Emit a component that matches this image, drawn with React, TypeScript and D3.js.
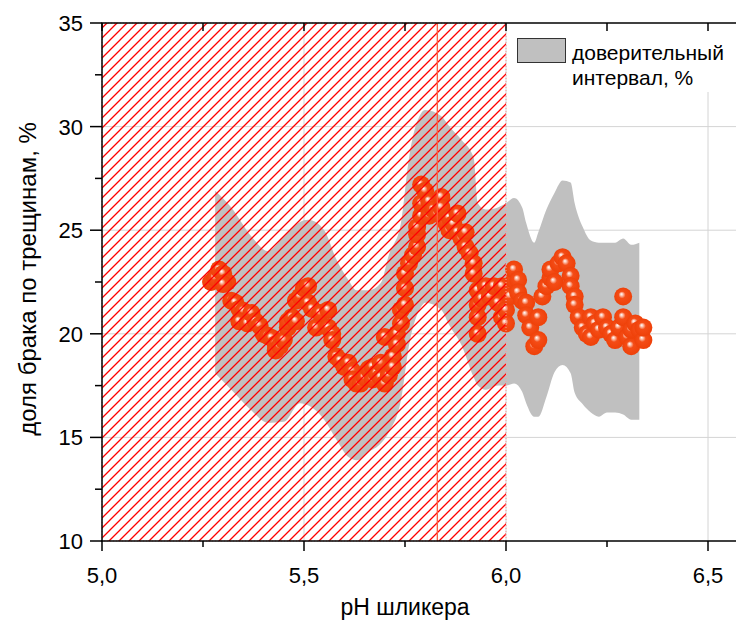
import React, { useEffect, useRef } from "react";
import * as d3 from "d3";

// pH values of the scatter points
const phValues = [
  5.27, 5.28, 5.29, 5.3, 5.31, 5.3, 5.32, 5.33, 5.34, 5.35, 5.34, 5.36, 5.37, 5.38, 5.39, 5.4,
  5.41, 5.42, 5.43, 5.43, 5.44, 5.45, 5.46, 5.46, 5.47, 5.48, 5.48, 5.49, 5.5, 5.51, 5.51, 5.52,
  5.53, 5.54, 5.56, 5.56, 5.57, 5.57, 5.58, 5.59, 5.6, 5.61, 5.62, 5.62, 5.63, 5.64, 5.65, 5.66,
  5.67, 5.67, 5.68, 5.69, 5.69, 5.7, 5.71, 5.72, 5.72, 5.7, 5.73, 5.73, 5.74, 5.74, 5.75, 5.75,
  5.75, 5.76, 5.77, 5.78, 5.78, 5.78, 5.79, 5.79, 5.79, 5.8, 5.81, 5.81, 5.82, 5.83, 5.84, 5.84,
  5.85, 5.86, 5.86, 5.87, 5.88, 5.88, 5.89, 5.9, 5.9, 5.91, 5.92, 5.92, 5.93, 5.93, 5.93, 5.93,
  5.94, 5.95, 5.96, 5.97, 5.98, 5.99, 5.99, 6.0, 6.0, 6.01, 6.01, 6.02, 6.02, 6.03, 6.03, 6.04,
  6.05, 6.05, 6.06, 6.07, 6.08, 6.08, 6.09, 6.1, 6.11, 6.11, 6.12, 6.13, 6.14, 6.15, 6.16, 6.16,
  6.17, 6.17, 6.18, 6.19, 6.2, 6.21, 6.21, 6.22, 6.23, 6.24, 6.25, 6.26, 6.27, 6.28, 6.29, 6.29,
  6.3, 6.31, 6.31, 6.32, 6.33, 6.34, 6.34,
];

// доля брака по трещинам, %
const defectValues = [
  22.5, 22.7, 23.1, 22.9, 22.5, 22.4, 21.6, 21.5, 21.2, 21.1, 20.6, 20.5, 21.0, 20.6, 20.4, 20.0,
  19.9, 19.8, 19.5, 19.2, 19.4, 19.7, 20.3, 20.6, 20.8, 20.6, 21.6, 21.8, 22.2, 22.3, 21.5, 21.2,
  20.3, 21.0, 21.15, 20.3, 20.0, 19.7, 18.9, 18.7, 18.4, 18.6, 18.2, 17.8, 17.6, 17.6, 17.9, 18.3,
  18.4, 17.8, 18.1, 18.6, 17.9, 17.6, 18.0, 18.9, 18.4, 19.85, 20.0, 19.5, 20.5, 21.15, 21.4, 22.2,
  22.9, 23.4, 23.8, 24.2, 24.8, 25.15, 25.7, 26.3, 27.2, 26.9, 26.4, 25.7, 26.0, 25.8, 26.6, 26.1,
  25.4, 25.6, 25.0, 25.3, 25.8, 24.9, 24.6, 24.9, 24.2, 23.9, 23.4, 22.9, 22.1, 21.4, 20.8, 20.0,
  21.7, 22.3, 21.8, 22.3, 21.5, 20.8, 22.3, 21.15, 20.5, 22.0, 21.8, 22.6, 23.1, 22.6, 22.0, 21.6,
  21.5, 20.9, 20.3, 19.4, 19.7, 20.8, 21.8, 22.3, 22.7, 23.1, 22.5, 23.4, 23.7, 23.4, 22.8, 22.3,
  21.8, 21.4, 20.8, 20.3, 20.0, 20.8, 19.85, 20.5, 20.2, 20.8, 20.3, 20.0, 19.7, 20.3, 21.8, 20.8,
  19.85, 19.4, 20.2, 20.5, 20.2, 19.7, 20.3,
];

// confidence interval band
const bandPh = [
  5.28, 5.32, 5.37, 5.41, 5.45, 5.49, 5.51, 5.55, 5.58, 5.61, 5.63, 5.66, 5.69, 5.71, 5.74, 5.76,
  5.79, 5.8, 5.84, 5.86, 5.89, 5.92, 5.93, 5.95, 5.98, 6.0, 6.02, 6.04, 6.05, 6.07, 6.08, 6.1,
  6.12, 6.14, 6.16, 6.17, 6.19, 6.21, 6.23, 6.25, 6.27, 6.29, 6.31, 6.33,
];
const bandUpper = [
  26.9, 26.1, 24.7, 24.0, 24.7, 25.4, 25.5, 25.0, 23.6, 22.6, 22.1, 22.1, 22.45, 23.8, 25.35, 28.5,
  30.65, 30.8, 30.5, 30.0, 29.35, 28.5, 26.3, 26.0, 26.1, 26.3, 26.55, 26.1, 25.35, 24.4, 24.9, 26.0,
  26.8, 27.4, 27.3, 26.3, 25.15, 24.5, 24.4, 24.4, 24.4, 24.6, 24.3, 24.4,
];
const bandLower = [
  18.1, 17.3, 16.3, 15.7, 15.75, 16.65, 16.55, 15.85, 14.9, 14.05, 13.9, 14.3, 14.7, 15.25, 16.8, 19.45,
  21.3, 21.5, 21.15, 20.4, 19.45, 17.9, 17.5, 17.3, 17.5, 17.5, 17.6, 17.2, 16.65, 16.0, 16.0, 16.95,
  18.15, 18.5, 18.1, 17.15, 16.6, 16.2, 16.0, 16.2, 16.2, 16.1, 15.85, 15.85,
];

const xTicks = [5.0, 5.5, 6.0, 6.5];
const xMinorTicks = [5.25, 5.75, 6.25];
const yTicks = [10, 15, 20, 25, 30, 35];
const yMinorTicks = [12.5, 17.5, 22.5, 27.5, 32.5];
const hatchRange = [5.0, 6.0];
const markerPh = 5.83;

const fmt = (v: number) => v.toFixed(1).replace(".", ",");

export default function App() {
  const ref = useRef<SVGSVGElement | null>(null);

  useEffect(() => {
    const W = 736;
    const H = 622;
    const left = 102;
    const top = 23;
    const bottom = 541;
    const right = 736;
    const font = "'Liberation Sans', Arial, sans-serif";

    const svg = d3.select(ref.current);
    svg.selectAll("*").remove();

    const x = d3.scaleLinear().domain([5.0, 6.5]).range([left, 708]);
    const y = d3.scaleLinear().domain([10, 35]).range([bottom, top]);

    const defs = svg.append("defs");
    const grad = defs
      .append("radialGradient")
      .attr("id", "ball")
      .attr("cx", "50%")
      .attr("cy", "50%")
      .attr("r", "52%")
      .attr("fx", "40%")
      .attr("fy", "36%");
    grad.append("stop").attr("offset", "0%").attr("stop-color", "#ffffff");
    grad.append("stop").attr("offset", "14%").attr("stop-color", "#fcc8b6");
    grad.append("stop").attr("offset", "38%").attr("stop-color", "#f44c16");
    grad.append("stop").attr("offset", "100%").attr("stop-color", "#ee4008");

    const pat = defs
      .append("pattern")
      .attr("id", "hatch")
      .attr("patternUnits", "userSpaceOnUse")
      .attr("width", 10)
      .attr("height", 10);
    pat
      .append("path")
      .attr("d", "M-1,1 l2,-2 M0,10 l10,-10 M9,11 l2,-2")
      .attr("stroke", "#ff0000")
      .attr("stroke-width", 1.3);

    svg.append("rect").attr("width", W).attr("height", H).attr("fill", "#fff");

    // GRID
    svg
      .append("g")
      .selectAll("line")
      .data(xTicks.slice(1))
      .join("line")
      .attr("x1", (d) => x(d))
      .attr("x2", (d) => x(d))
      .attr("y1", top)
      .attr("y2", bottom)
      .attr("stroke", "#d4d4d4")
      .attr("stroke-width", 1);
    svg
      .append("g")
      .selectAll("line")
      .data(yTicks.slice(1, -1))
      .join("line")
      .attr("x1", left)
      .attr("x2", right)
      .attr("y1", (d) => y(d))
      .attr("y2", (d) => y(d))
      .attr("stroke", "#d4d4d4")
      .attr("stroke-width", 1);

    // BAND
    const band = bandPh.map((p, i) => ({ p, lo: bandLower[i], hi: bandUpper[i] }));
    const area = d3
      .area<{ p: number; lo: number; hi: number }>()
      .x((d) => x(d.p))
      .y0((d) => y(d.lo))
      .y1((d) => y(d.hi))
      .curve(d3.curveMonotoneX);
    svg.append("path").datum(band).attr("d", area).attr("fill", "#c0c0c0");

    // POINTS
    const pts = phValues.map((p, i) => ({ p, v: defectValues[i] }));
    svg
      .append("g")
      .selectAll("circle")
      .data(pts)
      .join("circle")
      .attr("cx", (d) => x(d.p))
      .attr("cy", (d) => y(d.v))
      .attr("r", 9)
      .attr("fill", "url(#ball)");

    // HATCH
    svg
      .append("rect")
      .attr("x", x(hatchRange[0]))
      .attr("y", top)
      .attr("width", x(hatchRange[1]) - x(hatchRange[0]))
      .attr("height", bottom - top)
      .attr("fill", "url(#hatch)")
      .attr("stroke", "#ff9a9a")
      .attr("stroke-width", 1)
      .attr("stroke-dasharray", "1,2");

    svg
      .append("line")
      .attr("x1", x(markerPh))
      .attr("x2", x(markerPh))
      .attr("y1", top)
      .attr("y2", bottom)
      .attr("stroke", "#ff5a3c")
      .attr("stroke-width", 1.3);

    // LEGEND
    svg.append("rect").attr("x", 508).attr("y", 24).attr("width", 228).attr("height", 68).attr("fill", "#fff");
    svg
      .append("rect")
      .attr("x", 517.5)
      .attr("y", 38.5)
      .attr("width", 48)
      .attr("height", 24)
      .attr("fill", "#c0c0c0")
      .attr("stroke", "#333")
      .attr("stroke-width", 1);
    const lt = svg
      .append("text")
      .attr("font-family", font)
      .attr("font-size", 21)
      .attr("fill", "#000");
    lt.append("tspan").attr("x", 572).attr("y", 60).text("доверительный");
    lt.append("tspan").attr("x", 572).attr("y", 85).text("интервал, %");

    // AXES
    const axis = svg.append("g").attr("stroke", "#000").attr("stroke-width", 1.5);
    axis.append("line").attr("x1", left).attr("x2", left).attr("y1", top).attr("y2", bottom + 0.75);
    axis.append("line").attr("x1", left - 0.75).attr("x2", right).attr("y1", bottom).attr("y2", bottom);
    axis.append("line").attr("x1", left - 0.75).attr("x2", right).attr("y1", top).attr("y2", top);

    axis
      .selectAll(".xt")
      .data(xTicks)
      .join("line")
      .attr("x1", (d) => x(d))
      .attr("x2", (d) => x(d))
      .attr("y1", bottom)
      .attr("y2", bottom + 10);
    axis
      .selectAll(".xm")
      .data(xMinorTicks)
      .join("line")
      .attr("x1", (d) => x(d))
      .attr("x2", (d) => x(d))
      .attr("y1", bottom)
      .attr("y2", bottom + 6);
    axis
      .selectAll(".xtop")
      .data([...xTicks, ...xMinorTicks])
      .join("line")
      .attr("x1", (d) => x(d))
      .attr("x2", (d) => x(d))
      .attr("y1", top)
      .attr("y2", top + 8);
    axis
      .selectAll(".yt")
      .data(yTicks)
      .join("line")
      .attr("x1", left - 12)
      .attr("x2", left)
      .attr("y1", (d) => y(d))
      .attr("y2", (d) => y(d));
    axis
      .selectAll(".ym")
      .data(yMinorTicks)
      .join("line")
      .attr("x1", left - 7)
      .attr("x2", left)
      .attr("y1", (d) => y(d))
      .attr("y2", (d) => y(d));

    svg
      .append("g")
      .selectAll("text")
      .data(xTicks)
      .join("text")
      .attr("x", (d) => x(d))
      .attr("y", bottom + 42)
      .attr("text-anchor", "middle")
      .attr("font-family", font)
      .attr("font-size", 22)
      .text((d) => fmt(d));
    svg
      .append("g")
      .selectAll("text")
      .data(yTicks)
      .join("text")
      .attr("x", left - 19)
      .attr("y", (d) => y(d) + 8)
      .attr("text-anchor", "end")
      .attr("font-family", font)
      .attr("font-size", 22)
      .text((d) => String(d));

    // TITLES
    svg
      .append("text")
      .attr("x", 405)
      .attr("y", 615)
      .attr("text-anchor", "middle")
      .attr("font-family", font)
      .attr("font-size", 23)
      .text("pH шликера");
    svg
      .append("text")
      .attr("transform", `translate(36,${(top + bottom) / 2 - 3}) rotate(-90)`)
      .attr("text-anchor", "middle")
      .attr("font-family", font)
      .attr("font-size", 24)
      .text("доля брака по трещинам, %");
  }, []);

  return (
    <svg
      ref={ref}
      width={736}
      height={622}
      style={{ position: "absolute", left: 0, top: 0, display: "block" }}
    />
  );
}
